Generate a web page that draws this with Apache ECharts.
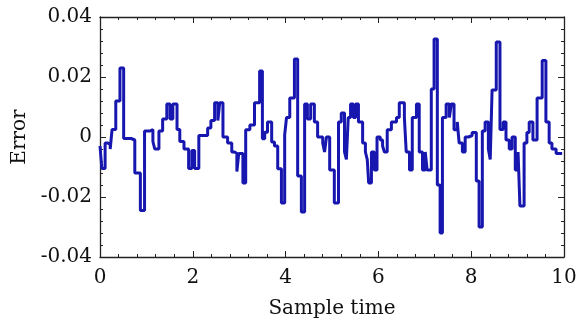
<!DOCTYPE html>
<html>
<head>
<meta charset="utf-8">
<script src="https://cdn.jsdelivr.net/npm/echarts@6/dist/echarts.min.js"></script>
<style>
html,body{margin:0;padding:0;background:#fff;}
#chart{width:585px;height:324px;}
</style>
</head>
<body>
<div id="chart"></div>
<script>
// Step-change times (Sample time) and the error value held from each time
var times = [
  0.00, 0.04, 0.11, 0.17, 0.22, 0.26, 0.34, 0.43, 0.51, 0.67,
  0.75, 0.87, 0.96, 1.08, 1.14, 1.18, 1.27, 1.35, 1.44, 1.51,
  1.57, 1.66, 1.72, 1.81, 1.91, 1.98, 2.04, 2.13, 2.32, 2.39,
  2.47, 2.54, 2.58, 2.65, 2.75, 2.84, 2.90, 2.95, 2.99, 3.08,
  3.14, 3.23, 3.33, 3.44, 3.50, 3.55, 3.61, 3.70, 3.76, 3.83,
  3.91, 3.98, 4.02, 4.09, 4.19, 4.26, 4.34, 4.41, 4.47, 4.54,
  4.62, 4.69, 4.80, 4.84, 4.88, 4.95, 5.05, 5.14, 5.20, 5.27,
  5.31, 5.35, 5.40, 5.46, 5.51, 5.57, 5.66, 5.72, 5.76, 5.79,
  5.85, 5.91, 5.97, 6.04, 6.09, 6.13, 6.19, 6.28, 6.39, 6.45,
  6.56, 6.60, 6.67, 6.73, 6.82, 6.88, 6.95, 7.01, 7.05, 7.14,
  7.20, 7.27, 7.33, 7.38, 7.46, 7.53, 7.57, 7.63, 7.70, 7.74,
  7.81, 7.87, 7.94, 8.02, 8.11, 8.17, 8.24, 8.30, 8.37, 8.41,
  8.45, 8.54, 8.62, 8.69, 8.75, 8.82, 8.88, 8.95, 9.01, 9.05,
  9.14, 9.20, 9.25, 9.33, 9.42, 9.53, 9.61, 9.68, 9.74, 9.83,
  9.96
];
var errors = [
  -0.003, -0.0105, -0.002, -0.0025, -0.004, 0.0025, 0.012, 0.023, -0.0005, -0.001,
  -0.012, -0.0245, 0.002, 0.0025, -0.0015, -0.004, 0.002, 0.006, 0.011, 0.006,
  0.011, 0.0025, -0.0015, -0.004, -0.0105, -0.0045, -0.0105, 0.0005, 0.003, 0.0055,
  0.0114, 0.0055, 0.0114, 0.0, -0.002, -0.005, -0.0055, -0.0115, -0.0055, -0.0153,
  0.0024, 0.004, 0.0114, 0.022, -0.0006, 0.0016, 0.005, -0.0017, -0.003, -0.0106,
  -0.022, 0.0007, 0.0065, 0.013, 0.026, -0.013, -0.025, 0.011, 0.006, 0.011,
  0.005, 0.0, -0.002, -0.005, 0.0, -0.011, -0.022, 0.005, 0.008, -0.005,
  -0.0075, 0.0065, 0.011, 0.0065, 0.011, 0.005, -0.002, -0.005, -0.0075, -0.0153,
  -0.005, -0.011, 0.0, -0.001, -0.003, -0.005, 0.0024, 0.005, 0.0065, 0.0114,
  0.0065, -0.005, -0.011, 0.0065, 0.011, -0.005, -0.011, -0.005, -0.011, 0.016,
  0.0327, -0.016, -0.032, 0.0065, 0.011, 0.0065, 0.011, 0.0024, 0.005, -0.002,
  -0.005, 0.0, 0.0005, 0.0015, -0.0147, -0.030, 0.002, 0.005, -0.004, -0.0075,
  0.0157, 0.0317, 0.0025, 0.005, -0.001, -0.004, 0.0, -0.011, -0.005, -0.023,
  -0.002, 0.0015, 0.005, -0.001, 0.013, 0.0255, 0.005, -0.002, -0.004, -0.0055,
  -0.0055
];
var xTicks = [0, 2, 4, 6, 8, 10];
var yTicks = [-0.04, -0.02, 0, 0.02, 0.04];

var xTitle = 'Sample time';
var yTitle = 'Error';

var data = times.map(function (t, i) { return [t, errors[i]]; });

var FONT = 'DejaVu Serif';
var frameColor = '#222';
var textStyle = { fontFamily: FONT, fontSize: 20, fontWeight: 'normal', color: '#111' };

function axisCommon() {
  return {
    axisLine: { show: true, onZero: false, lineStyle: { color: frameColor, width: 1.3 } },
    axisTick: { show: true, inside: true, length: 6, lineStyle: { color: frameColor, width: 1 } },
    minorTick: { show: true, splitNumber: 5, length: 3, lineStyle: { color: frameColor, width: 1 } },
    splitLine: { show: false },
    minorSplitLine: { show: false }
  };
}

var xMain = Object.assign(axisCommon(), {
  type: 'value', position: 'bottom',
  min: xTicks[0], max: xTicks[xTicks.length - 1], interval: xTicks[1] - xTicks[0],
  name: xTitle, nameLocation: 'middle', nameGap: 42,
  nameTextStyle: textStyle,
  axisLabel: Object.assign({ show: true, margin: 11 }, textStyle)
});
var xTop = Object.assign(axisCommon(), {
  type: 'value', position: 'top',
  min: xTicks[0], max: xTicks[xTicks.length - 1], interval: xTicks[1] - xTicks[0],
  axisLabel: { show: false }
});
var yMain = Object.assign(axisCommon(), {
  type: 'value', position: 'left',
  min: yTicks[0], max: yTicks[yTicks.length - 1], interval: yTicks[1] - yTicks[0],
  name: yTitle, nameLocation: 'middle', nameGap: 70,
  nameTextStyle: textStyle,
  axisLabel: Object.assign({
    show: true, margin: 8,
    formatter: function (v) { return Math.abs(v) < 1e-9 ? '0' : v.toFixed(2); }
  }, textStyle)
});
var yRight = Object.assign(axisCommon(), {
  type: 'value', position: 'right',
  min: yTicks[0], max: yTicks[yTicks.length - 1], interval: yTicks[1] - yTicks[0],
  axisLabel: { show: false }
});

var chart = echarts.init(document.getElementById('chart'), null, { renderer: 'canvas' });
chart.setOption({
  backgroundColor: '#fff',
  animation: false,
  grid: { left: 100, right: 21, top: 17, bottom: 62, containLabel: false },
  xAxis: [xMain, xTop],
  yAxis: [yMain, yRight],
  series: [{
    type: 'line',
    xAxisIndex: 0, yAxisIndex: 0,
    step: 'end',
    data: data,
    showSymbol: false,
    symbol: 'none',
    lineStyle: { color: '#1717b0', width: 3 },
    itemStyle: { color: '#1717b0' }
  }]
});
</script>
</body>
</html>
